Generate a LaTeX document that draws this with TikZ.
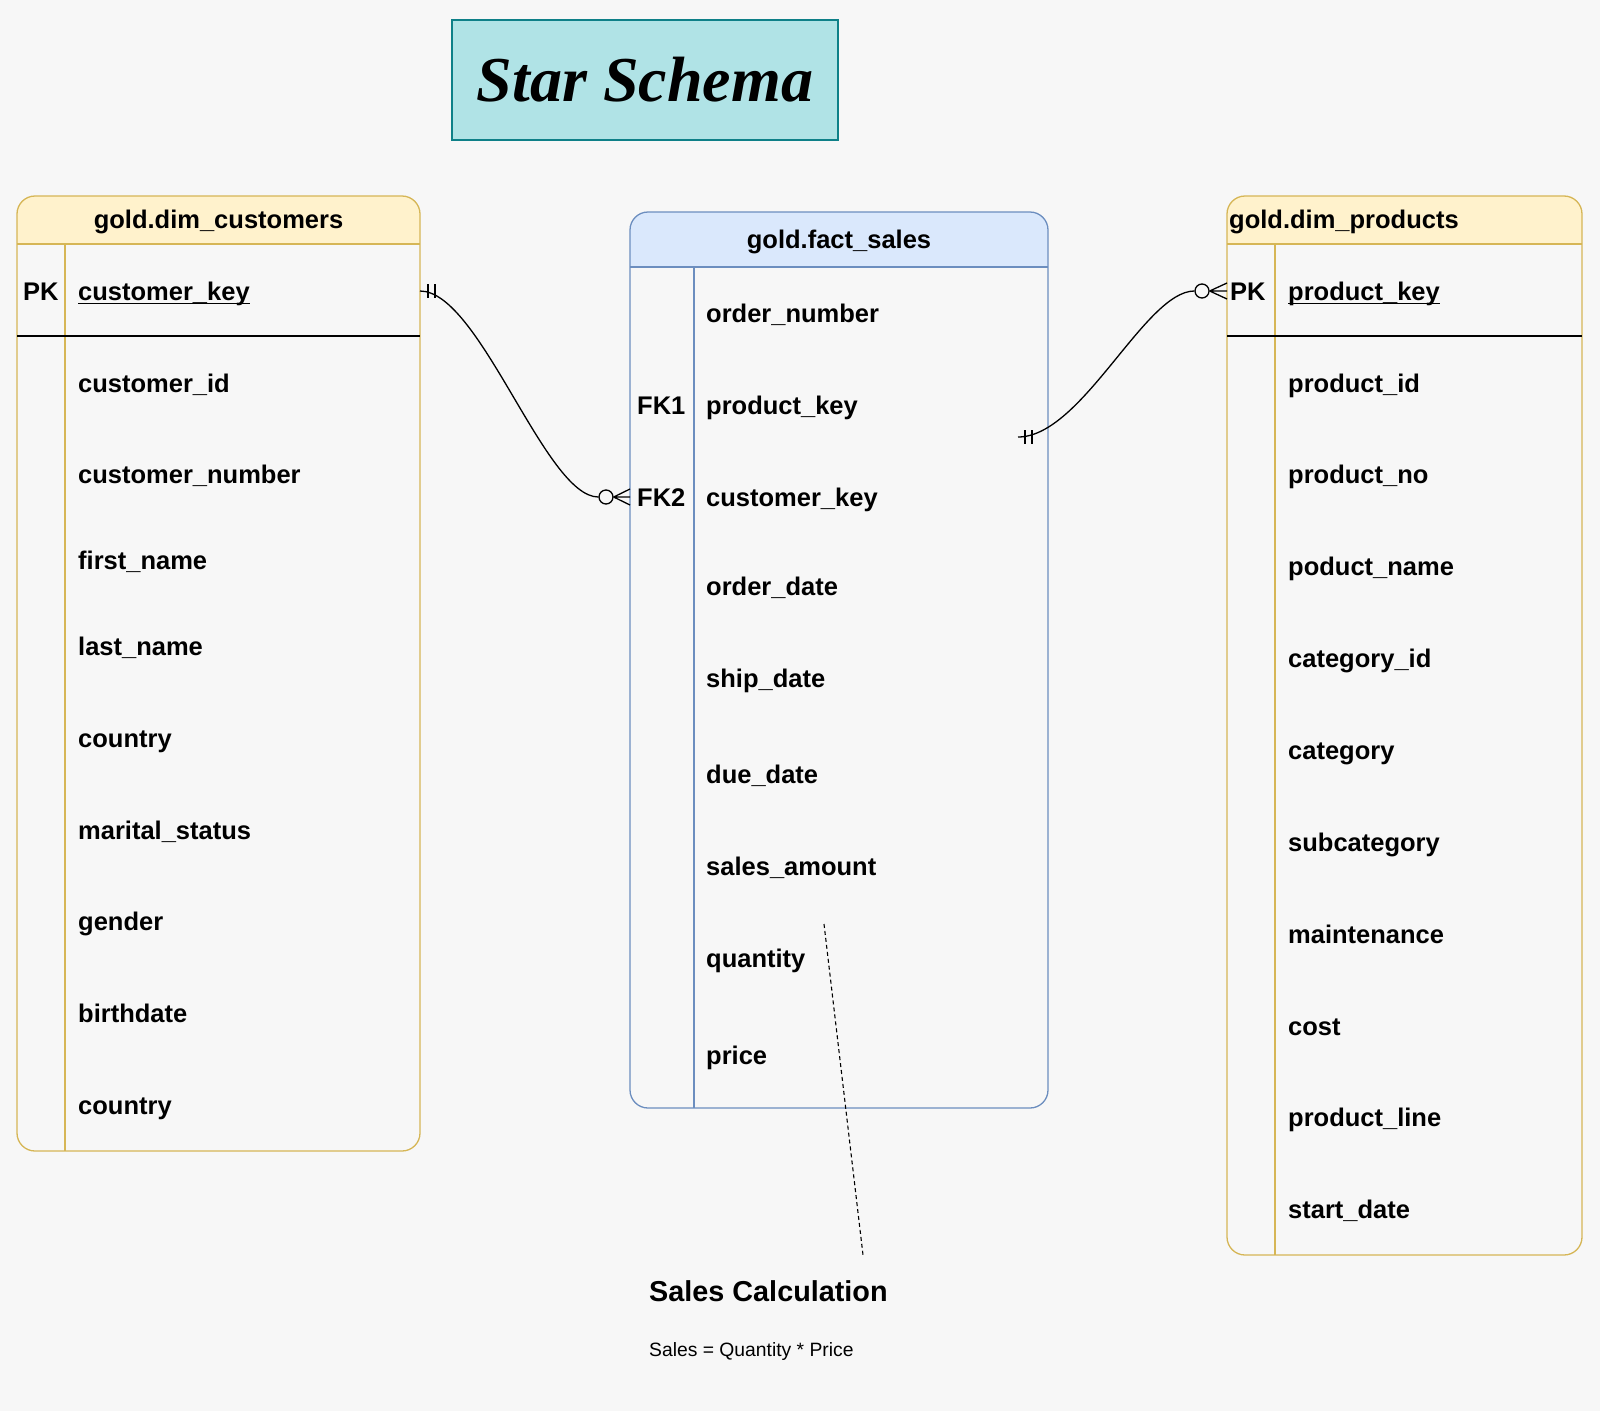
\documentclass[tikz,border=0pt]{standalone}
\usepackage{fontspec}
\setmainfont{Liberation Sans}
\newfontfamily\titlefont{Liberation Serif}
\usetikzlibrary{calc}
\definecolor{bg}{HTML}{F7F7F7}
\definecolor{yfill}{HTML}{FFF2CC}
\definecolor{yline}{HTML}{D6B656}
\definecolor{bfill}{HTML}{DAE8FC}
\definecolor{bline}{HTML}{6C8EBF}
\definecolor{tfill}{HTML}{B0E3E6}
\definecolor{tline}{HTML}{0E8088}
\begin{document}
\begin{tikzpicture}[x=1pt,y=-1pt,
  field/.style={anchor=base west, inner sep=0pt, font=\fontsize{25.5}{30}\selectfont\bfseries},
  small/.style={anchor=base west, inner sep=0pt, font=\fontsize{19.3}{23}\selectfont},
  tablebox/.style={draw, rounded corners=18pt, line width=1.3pt, inner sep=0pt},
  conn/.style={line width=1.3pt, black},
  ermark/.style={line width=1.3pt, black},
  keyline/.style={line width=1.4pt, black}]
\fill[bg] (0,0) rectangle (1600,1411);
\useasboundingbox (0,0) rectangle (1600,1411);

% ---------- title ----------
\node[draw=tline, fill=tfill, line width=1.3pt, minimum width=386pt, minimum height=120pt, inner sep=0pt,
      font=\titlefont\fontsize{64}{70}\selectfont\bfseries\itshape] (title) at (645,80) {Star Schema};

% ---------- gold.dim_customers ----------
\begin{scope}
  \clip (17,196) rectangle (420,244);
  \fill[yfill, rounded corners=18pt] (17,196) rectangle (420,1151);
\end{scope}
\node[tablebox, draw=yline, minimum width=403pt, minimum height=955pt] (cust) at (218.5,673.5) {};
\draw[yline, line width=1.3pt] (17,244) -- (420,244);
\draw[yline, line width=1.3pt] (65,244) -- (65,1151);
\draw[keyline] (17,336) -- (420,336);
\node[field, anchor=base] (custh) at (218.5,228) {gold.dim\_customers};
\node[field] (custpk) at (23,300) {PK};
\node[field] (c1) at (78,300) {customer\_key};
\draw[line width=1pt] ([yshift=-3.5pt]c1.base west) -- ([yshift=-3.5pt]c1.base east);
\node[field] (c2) at (78,392) {customer\_id};
\node[field] (c3) at (78,483) {customer\_number};
\node[field] (c4) at (78,569) {first\_name};
\node[field] (c5) at (78,655) {last\_name};
\node[field] (c6) at (78,747) {country};
\node[field] (c7) at (78,839) {marital\_status};
\node[field] (c8) at (78,930) {gender};
\node[field] (c9) at (78,1022) {birthdate};
\node[field] (c10) at (78,1114) {country};

% ---------- gold.fact_sales ----------
\begin{scope}
  \clip (630,212) rectangle (1048,267);
  \fill[bfill, rounded corners=18pt] (630,212) rectangle (1048,1108);
\end{scope}
\node[tablebox, draw=bline, minimum width=418pt, minimum height=896pt] (fact) at (839,660) {};
\draw[bline, line width=1.3pt] (630,267) -- (1048,267);
\draw[bline, line width=1.3pt] (694,267) -- (694,1108);
\node[field, anchor=base] (facth) at (839,248) {gold.fact\_sales};
\node[field] (f1) at (706,322) {order\_number};
\node[field] (fk1) at (637,414) {FK1};
\node[field] (f2) at (706,414) {product\_key};
\node[field] (fk2) at (637,506) {FK2};
\node[field] (f3) at (706,506) {customer\_key};
\node[field] (f4) at (706,595) {order\_date};
\node[field] (f5) at (706,687) {ship\_date};
\node[field] (f6) at (706,783) {due\_date};
\node[field] (f7) at (706,875) {sales\_amount};
\node[field] (f8) at (706,967) {quantity};
\node[field] (f9) at (706,1064) {price};

% ---------- gold.dim_products ----------
\begin{scope}
  \clip (1227,196) rectangle (1582,244);
  \fill[yfill, rounded corners=18pt] (1227,196) rectangle (1582,1255);
\end{scope}
\node[tablebox, draw=yline, minimum width=355pt, minimum height=1059pt] (prod) at (1404.5,725.5) {};
\draw[yline, line width=1.3pt] (1227,244) -- (1582,244);
\draw[yline, line width=1.3pt] (1275,244) -- (1275,1255);
\draw[keyline] (1227,336) -- (1582,336);
\node[field] (prodh) at (1229,228) {gold.dim\_products};
\node[field] (prodpk) at (1230,300) {PK};
\node[field] (p1) at (1288,300) {product\_key};
\draw[line width=1pt] ([yshift=-3.5pt]p1.base west) -- ([yshift=-3.5pt]p1.base east);
\node[field] (p2) at (1288,392) {product\_id};
\node[field] (p3) at (1288,483) {product\_no};
\node[field] (p4) at (1288,575) {poduct\_name};
\node[field] (p5) at (1288,667) {category\_id};
\node[field] (p6) at (1288,759) {category};
\node[field] (p7) at (1288,851) {subcategory};
\node[field] (p8) at (1288,943) {maintenance};
\node[field] (p9) at (1288,1035) {cost};
\node[field] (p10) at (1288,1126) {product\_line};
\node[field] (p11) at (1288,1218) {start\_date};

% ---------- relationship: customers -> fact ----------
\coordinate (custEnd) at (420,291);
\coordinate (factFK2) at (630,497);
\node[circle, draw, line width=1.3pt, fill=bg, minimum size=14pt, inner sep=0pt] (circ1) at (606,497) {};
\draw[conn] (custEnd) .. controls (480,291) and (545,497) .. (circ1.west);
\draw[ermark] (428,284) -- (428,298) (435,284) -- (435,298);
\draw[ermark] (circ1.east) -- ($(factFK2)+(0,-8)$)
            (circ1.east) -- (factFK2)
            (circ1.east) -- ($(factFK2)+(0,8)$);

% ---------- relationship: fact -> products ----------
\coordinate (factEnd) at (1018,437);
\coordinate (prodPK) at (1227,291);
\node[circle, draw, line width=1.3pt, fill=bg, minimum size=14pt, inner sep=0pt] (circ2) at (1202,291) {};
\draw[conn] (factEnd) .. controls (1082,437) and (1145,291) .. (circ2.west);
\draw[ermark] (1025,430) -- (1025,444) (1032,430) -- (1032,444);
\draw[ermark] (circ2.east) -- ($(prodPK)+(0,-8)$)
            (circ2.east) -- (prodPK)
            (circ2.east) -- ($(prodPK)+(0,8)$);

% ---------- sales calculation note ----------
\coordinate (dashA) at (824,924);
\coordinate (dashB) at (863,1255);
\draw[line width=1.1pt, dash pattern=on 4pt off 3pt] (dashA) -- (dashB);
\node[anchor=base west, inner sep=0pt, font=\fontsize{28.8}{34}\selectfont\bfseries] (calc) at (649,1301) {Sales Calculation};
\node[small] (formula) at (649,1356) {Sales = Quantity * Price};
\end{tikzpicture}
\end{document}
